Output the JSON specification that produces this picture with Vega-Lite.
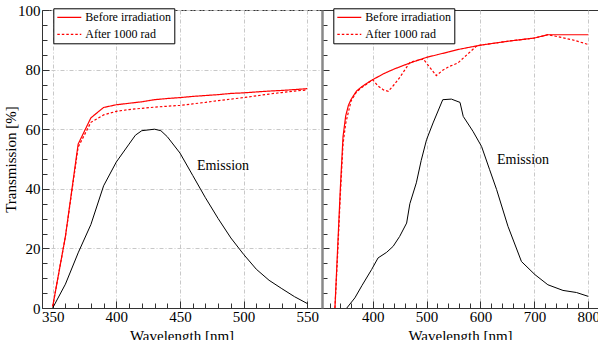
{
  "$schema": "https://vega.github.io/schema/vega-lite/v6.json",
  "width": 556,
  "height": 298,
  "autosize": {"type": "none"},
  "padding": {"left": 42, "top": 10, "right": 0, "bottom": 32},
  "config": {
    "font": "Liberation Serif",
    "view": {"stroke": "#333", "strokeWidth": 1},
    "axis": {
      "labelFont": "Liberation Serif, Times New Roman, serif", "labelFontSize": 15, "labelColor": "black",
      "titleFont": "Liberation Serif, Times New Roman, serif", "titleFontSize": 15, "titleFontWeight": "normal", "titleColor": "black",
      "domainColor": "#333", "tickColor": "#333", "gridColor": "#c8c8c8", "gridDash": [4, 2, 1, 2]
    }
  },
  "data": {"values": [
    {"p": "L", "s": "Before irradiation", "w": 350, "t": 0.5},
    {"p": "L", "s": "Before irradiation", "w": 360, "t": 24},
    {"p": "L", "s": "Before irradiation", "w": 370, "t": 55},
    {"p": "L", "s": "Before irradiation", "w": 380, "t": 63.8},
    {"p": "L", "s": "Before irradiation", "w": 390, "t": 67.3},
    {"p": "L", "s": "Before irradiation", "w": 400, "t": 68.2},
    {"p": "L", "s": "Before irradiation", "w": 410, "t": 68.7},
    {"p": "L", "s": "Before irradiation", "w": 420, "t": 69.2},
    {"p": "L", "s": "Before irradiation", "w": 430, "t": 69.9},
    {"p": "L", "s": "Before irradiation", "w": 440, "t": 70.3},
    {"p": "L", "s": "Before irradiation", "w": 450, "t": 70.6},
    {"p": "L", "s": "Before irradiation", "w": 460, "t": 71.0},
    {"p": "L", "s": "Before irradiation", "w": 470, "t": 71.3},
    {"p": "L", "s": "Before irradiation", "w": 480, "t": 71.6},
    {"p": "L", "s": "Before irradiation", "w": 490, "t": 72.0},
    {"p": "L", "s": "Before irradiation", "w": 500, "t": 72.2},
    {"p": "L", "s": "Before irradiation", "w": 510, "t": 72.5},
    {"p": "L", "s": "Before irradiation", "w": 520, "t": 72.8},
    {"p": "L", "s": "Before irradiation", "w": 530, "t": 73.0},
    {"p": "L", "s": "Before irradiation", "w": 540, "t": 73.3},
    {"p": "L", "s": "Before irradiation", "w": 550, "t": 73.6},
    {"p": "L", "s": "After 1000 rad", "w": 350, "t": 0.5},
    {"p": "L", "s": "After 1000 rad", "w": 360, "t": 24},
    {"p": "L", "s": "After 1000 rad", "w": 370, "t": 54},
    {"p": "L", "s": "After 1000 rad", "w": 380, "t": 62.3},
    {"p": "L", "s": "After 1000 rad", "w": 390, "t": 64.8},
    {"p": "L", "s": "After 1000 rad", "w": 400, "t": 66.0},
    {"p": "L", "s": "After 1000 rad", "w": 410, "t": 66.6},
    {"p": "L", "s": "After 1000 rad", "w": 420, "t": 67.0},
    {"p": "L", "s": "After 1000 rad", "w": 430, "t": 67.4},
    {"p": "L", "s": "After 1000 rad", "w": 440, "t": 67.7},
    {"p": "L", "s": "After 1000 rad", "w": 450, "t": 68.0},
    {"p": "L", "s": "After 1000 rad", "w": 460, "t": 68.5},
    {"p": "L", "s": "After 1000 rad", "w": 470, "t": 69.0},
    {"p": "L", "s": "After 1000 rad", "w": 480, "t": 69.6},
    {"p": "L", "s": "After 1000 rad", "w": 490, "t": 70.1},
    {"p": "L", "s": "After 1000 rad", "w": 500, "t": 70.6},
    {"p": "L", "s": "After 1000 rad", "w": 510, "t": 71.2},
    {"p": "L", "s": "After 1000 rad", "w": 520, "t": 71.8},
    {"p": "L", "s": "After 1000 rad", "w": 530, "t": 72.3},
    {"p": "L", "s": "After 1000 rad", "w": 540, "t": 72.8},
    {"p": "L", "s": "After 1000 rad", "w": 550, "t": 73.2},
    {"p": "L", "s": "Emission", "w": 350, "t": 0},
    {"p": "L", "s": "Emission", "w": 360, "t": 8},
    {"p": "L", "s": "Emission", "w": 370, "t": 18.5},
    {"p": "L", "s": "Emission", "w": 380, "t": 28},
    {"p": "L", "s": "Emission", "w": 390, "t": 41},
    {"p": "L", "s": "Emission", "w": 400, "t": 49},
    {"p": "L", "s": "Emission", "w": 410, "t": 55},
    {"p": "L", "s": "Emission", "w": 415, "t": 58},
    {"p": "L", "s": "Emission", "w": 420, "t": 59.5},
    {"p": "L", "s": "Emission", "w": 430, "t": 60},
    {"p": "L", "s": "Emission", "w": 435, "t": 59.5},
    {"p": "L", "s": "Emission", "w": 440, "t": 57.5},
    {"p": "L", "s": "Emission", "w": 450, "t": 52},
    {"p": "L", "s": "Emission", "w": 460, "t": 44.5},
    {"p": "L", "s": "Emission", "w": 470, "t": 37},
    {"p": "L", "s": "Emission", "w": 480, "t": 30},
    {"p": "L", "s": "Emission", "w": 490, "t": 23.5},
    {"p": "L", "s": "Emission", "w": 500, "t": 18},
    {"p": "L", "s": "Emission", "w": 510, "t": 13},
    {"p": "L", "s": "Emission", "w": 520, "t": 9.3},
    {"p": "L", "s": "Emission", "w": 530, "t": 6.5},
    {"p": "L", "s": "Emission", "w": 540, "t": 3.8},
    {"p": "L", "s": "Emission", "w": 550, "t": 1.5},
    {"p": "R", "s": "Before irradiation", "w": 330, "t": 0},
    {"p": "R", "s": "Before irradiation", "w": 335, "t": 20},
    {"p": "R", "s": "Before irradiation", "w": 340, "t": 40},
    {"p": "R", "s": "Before irradiation", "w": 345, "t": 57.5},
    {"p": "R", "s": "Before irradiation", "w": 350, "t": 64.5},
    {"p": "R", "s": "Before irradiation", "w": 355, "t": 68},
    {"p": "R", "s": "Before irradiation", "w": 360, "t": 70},
    {"p": "R", "s": "Before irradiation", "w": 370, "t": 72.8},
    {"p": "R", "s": "Before irradiation", "w": 380, "t": 74.3},
    {"p": "R", "s": "Before irradiation", "w": 390, "t": 75.5},
    {"p": "R", "s": "Before irradiation", "w": 400, "t": 76.6},
    {"p": "R", "s": "Before irradiation", "w": 410, "t": 77.6},
    {"p": "R", "s": "Before irradiation", "w": 420, "t": 78.6},
    {"p": "R", "s": "Before irradiation", "w": 440, "t": 80.2},
    {"p": "R", "s": "Before irradiation", "w": 460, "t": 81.6},
    {"p": "R", "s": "Before irradiation", "w": 480, "t": 82.9},
    {"p": "R", "s": "Before irradiation", "w": 500, "t": 84.1},
    {"p": "R", "s": "Before irradiation", "w": 520, "t": 85.0},
    {"p": "R", "s": "Before irradiation", "w": 540, "t": 85.9},
    {"p": "R", "s": "Before irradiation", "w": 560, "t": 86.8},
    {"p": "R", "s": "Before irradiation", "w": 580, "t": 87.5},
    {"p": "R", "s": "Before irradiation", "w": 600, "t": 88.2},
    {"p": "R", "s": "Before irradiation", "w": 650, "t": 89.5},
    {"p": "R", "s": "Before irradiation", "w": 700, "t": 90.6},
    {"p": "R", "s": "Before irradiation", "w": 725, "t": 91.7},
    {"p": "R", "s": "Before irradiation", "w": 750, "t": 91.7},
    {"p": "R", "s": "Before irradiation", "w": 800, "t": 91.7},
    {"p": "R", "s": "After 1000 rad", "w": 330, "t": 0},
    {"p": "R", "s": "After 1000 rad", "w": 335, "t": 18},
    {"p": "R", "s": "After 1000 rad", "w": 340, "t": 38},
    {"p": "R", "s": "After 1000 rad", "w": 345, "t": 55},
    {"p": "R", "s": "After 1000 rad", "w": 350, "t": 62},
    {"p": "R", "s": "After 1000 rad", "w": 360, "t": 69.5},
    {"p": "R", "s": "After 1000 rad", "w": 370, "t": 72.5},
    {"p": "R", "s": "After 1000 rad", "w": 380, "t": 74},
    {"p": "R", "s": "After 1000 rad", "w": 390, "t": 75.3},
    {"p": "R", "s": "After 1000 rad", "w": 400, "t": 76.6},
    {"p": "R", "s": "After 1000 rad", "w": 410, "t": 74.5},
    {"p": "R", "s": "After 1000 rad", "w": 420, "t": 73.2},
    {"p": "R", "s": "After 1000 rad", "w": 429, "t": 72.7},
    {"p": "R", "s": "After 1000 rad", "w": 440, "t": 75.0},
    {"p": "R", "s": "After 1000 rad", "w": 450, "t": 77.3},
    {"p": "R", "s": "After 1000 rad", "w": 460, "t": 80.0},
    {"p": "R", "s": "After 1000 rad", "w": 469, "t": 82.4},
    {"p": "R", "s": "After 1000 rad", "w": 480, "t": 83.0},
    {"p": "R", "s": "After 1000 rad", "w": 494, "t": 83.5},
    {"p": "R", "s": "After 1000 rad", "w": 505, "t": 81.0},
    {"p": "R", "s": "After 1000 rad", "w": 518, "t": 78.0},
    {"p": "R", "s": "After 1000 rad", "w": 530, "t": 79.8},
    {"p": "R", "s": "After 1000 rad", "w": 543, "t": 81.1},
    {"p": "R", "s": "After 1000 rad", "w": 558, "t": 82.2},
    {"p": "R", "s": "After 1000 rad", "w": 575, "t": 85.0},
    {"p": "R", "s": "After 1000 rad", "w": 592, "t": 87.8},
    {"p": "R", "s": "After 1000 rad", "w": 600, "t": 88.2},
    {"p": "R", "s": "After 1000 rad", "w": 650, "t": 89.5},
    {"p": "R", "s": "After 1000 rad", "w": 700, "t": 90.6},
    {"p": "R", "s": "After 1000 rad", "w": 725, "t": 91.7},
    {"p": "R", "s": "After 1000 rad", "w": 750, "t": 90.8},
    {"p": "R", "s": "After 1000 rad", "w": 775, "t": 89.8},
    {"p": "R", "s": "After 1000 rad", "w": 800, "t": 88.4},
    {"p": "R", "s": "Emission", "w": 352, "t": 0},
    {"p": "R", "s": "Emission", "w": 367, "t": 3.4},
    {"p": "R", "s": "Emission", "w": 380, "t": 7.5},
    {"p": "R", "s": "Emission", "w": 398, "t": 12.9},
    {"p": "R", "s": "Emission", "w": 410, "t": 16.8},
    {"p": "R", "s": "Emission", "w": 426, "t": 18.7},
    {"p": "R", "s": "Emission", "w": 438, "t": 20.7},
    {"p": "R", "s": "Emission", "w": 450, "t": 24},
    {"p": "R", "s": "Emission", "w": 463, "t": 28.5},
    {"p": "R", "s": "Emission", "w": 469, "t": 35},
    {"p": "R", "s": "Emission", "w": 481, "t": 42},
    {"p": "R", "s": "Emission", "w": 490, "t": 49.5},
    {"p": "R", "s": "Emission", "w": 500, "t": 56.5},
    {"p": "R", "s": "Emission", "w": 512, "t": 62.1},
    {"p": "R", "s": "Emission", "w": 530, "t": 69.9},
    {"p": "R", "s": "Emission", "w": 546, "t": 70.1},
    {"p": "R", "s": "Emission", "w": 562, "t": 69},
    {"p": "R", "s": "Emission", "w": 568, "t": 64.3},
    {"p": "R", "s": "Emission", "w": 586, "t": 59.3},
    {"p": "R", "s": "Emission", "w": 602, "t": 54.2},
    {"p": "R", "s": "Emission", "w": 617, "t": 46.4},
    {"p": "R", "s": "Emission", "w": 630, "t": 39.7},
    {"p": "R", "s": "Emission", "w": 651, "t": 27.4},
    {"p": "R", "s": "Emission", "w": 676, "t": 15.6},
    {"p": "R", "s": "Emission", "w": 701, "t": 11.2},
    {"p": "R", "s": "Emission", "w": 725, "t": 7.8},
    {"p": "R", "s": "Emission", "w": 753, "t": 5.9},
    {"p": "R", "s": "Emission", "w": 778, "t": 5.2},
    {"p": "R", "s": "Emission", "w": 800, "t": 3.9}
  ]},
  "layer": [
    {
      "encoding": {
        "x": {"field": "w", "type": "quantitative",
          "scale": {"domain": [341.6, 560.8], "range": [0, 279], "nice": false, "zero": false},
          "axis": {"orient": "bottom", "title": "Wavelength [nm]", "titlePadding": 4,
            "values": [350, 360, 370, 380, 390, 400, 410, 420, 430, 440, 450, 460, 470, 480, 490, 500, 510, 520, 530, 540, 550],
            "labelExpr": "datum.value % 50 === 0 ? datum.label : ''",
            "tickSize": {"condition": {"test": "datum.value % 50 === 0", "value": -7}, "value": -5},
            "labelPadding": 8, "grid": true,
            "gridOpacity": {"condition": {"test": "datum.value % 50 === 0", "value": 1}, "value": 0}}},
        "y": {"field": "t", "type": "quantitative",
          "scale": {"domain": [0, 100], "nice": false},
          "axis": {"orient": "left", "title": "Transmission [%]", "titlePadding": -1,
            "values": [0, 5, 10, 15, 20, 25, 30, 35, 40, 45, 50, 55, 60, 65, 70, 75, 80, 85, 90, 95, 100],
            "labelExpr": "datum.value % 20 === 0 ? datum.label : ''",
            "tickSize": {"condition": {"test": "datum.value % 20 === 0", "value": -7}, "value": -5},
            "labelPadding": 9, "grid": true,
            "gridOpacity": {"condition": {"test": "datum.value % 20 === 0", "value": 1}, "value": 0}}}
      },
      "layer": [
        {
          "transform": [{"filter": "datum.p === 'L' && datum.s !== 'Emission'"}],
          "mark": {"type": "line", "color": "red", "strokeWidth": 1.2},
          "encoding": {
            "strokeDash": {"field": "s", "type": "nominal",
              "scale": {"domain": ["Before irradiation", "After 1000 rad"], "range": [[1, 0], [2.5, 2]]},
              "legend": {"title": null, "orient": "none", "legendX": 11.3, "legendY": -1.7,
                "symbolType": "stroke", "symbolSize": 576, "symbolStrokeColor": "red", "symbolStrokeWidth": 1.2,
                "clipHeight": 12, "labelFont": "Liberation Serif", "labelFontSize": 12, "labelColor": "black",
                "padding": 3, "rowPadding": 5, "labelOffset": 3, "strokeColor": "black", "fillColor": "white"}}
          }
        },
        {
          "transform": [{"filter": "datum.p === 'L' && datum.s === 'Emission'"}],
          "mark": {"type": "line", "color": "black", "strokeWidth": 1}
        },
        {
          "data": {"values": [{"w": 483.8, "t": 47.8, "label": "Emission"}]},
          "mark": {"type": "text", "font": "Liberation Serif", "fontSize": 14, "align": "center", "baseline": "middle", "color": "black"},
          "encoding": {"text": {"field": "label"}}
        }
      ]
    },
    {
      "encoding": {
        "x": {"field": "w", "type": "quantitative",
          "scale": {"domain": [306, 818], "range": [280, 556], "nice": false, "zero": false},
          "axis": {"orient": "bottom", "title": "Wavelength [nm]", "titlePadding": 4,
            "values": [320, 340, 360, 380, 400, 420, 440, 460, 480, 500, 520, 540, 560, 580, 600, 620, 640, 660, 680, 700, 720, 740, 760, 780, 800],
            "labelExpr": "datum.value % 100 === 0 ? datum.label : ''",
            "tickSize": {"condition": {"test": "datum.value % 100 === 0", "value": -7}, "value": -5},
            "labelPadding": 8, "grid": true,
            "gridOpacity": {"condition": {"test": "datum.value % 100 === 0", "value": 1}, "value": 0}}},
        "y": {"field": "t", "type": "quantitative",
          "scale": {"domain": [0, 100], "nice": false},
          "axis": {"orient": "left", "offset": -280, "title": null, "labels": false,
            "values": [0, 5, 10, 15, 20, 25, 30, 35, 40, 45, 50, 55, 60, 65, 70, 75, 80, 85, 90, 95, 100],
            "tickSize": {"condition": {"test": "datum.value % 20 === 0", "value": -7}, "value": -5},
            "domainColor": "#888", "domainWidth": 2.5, "grid": false}}
      },
      "layer": [
        {
          "transform": [{"filter": "datum.p === 'R' && datum.s !== 'Emission'"}],
          "mark": {"type": "line", "color": "red", "strokeWidth": 1.2},
          "encoding": {
            "strokeDash": {"field": "s", "type": "nominal",
              "scale": {"domain": ["Before irradiation", "After 1000 rad"], "range": [[1, 0], [2.5, 2]]},
              "legend": {"title": null, "orient": "none", "legendX": 291.3, "legendY": -1.7,
                "symbolType": "stroke", "symbolSize": 576, "symbolStrokeColor": "red", "symbolStrokeWidth": 1.2,
                "clipHeight": 12, "labelFont": "Liberation Serif", "labelFontSize": 12, "labelColor": "black",
                "padding": 3, "rowPadding": 5, "labelOffset": 3, "strokeColor": "black", "fillColor": "white"}}
          }
        },
        {
          "transform": [{"filter": "datum.p === 'R' && datum.s === 'Emission'"}],
          "mark": {"type": "line", "color": "black", "strokeWidth": 1}
        },
        {
          "data": {"values": [{"w": 678.9, "t": 49.8, "label": "Emission"}]},
          "mark": {"type": "text", "font": "Liberation Serif", "fontSize": 14, "align": "center", "baseline": "middle", "color": "black"},
          "encoding": {"text": {"field": "label"}}
        }
      ]
    }
  ],
  "resolve": {
    "scale": {"x": "independent", "strokeDash": "independent"},
    "axis": {"x": "independent", "y": "independent"},
    "legend": {"strokeDash": "independent"}
  }
}
